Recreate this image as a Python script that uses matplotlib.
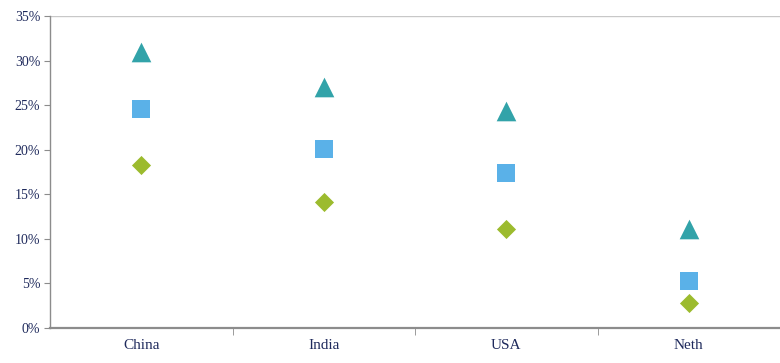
import matplotlib.pyplot as plt
import numpy as np

countries = ['China', 'India', 'USA', 'Neth']
high = [31.0, 27.0, 24.3, 11.1]
mid = [24.6, 20.1, 17.4, 5.3]
low = [18.3, 14.1, 11.1, 2.8]

plt.rcParams['font.family'] = ['Liberation Serif', 'DejaVu Serif']
navy = '#1f2a5c'
spine = '#8c8c8c'

fig = plt.figure(figsize=(7.8, 3.63), dpi=100)
ax = fig.add_axes([50 / 780, 1 - 328 / 363, 730 / 780, 312 / 363])

x = np.arange(len(countries))
ax.scatter(x, high, marker='^', s=200, color='#32a3a9', zorder=3, linewidths=0)
ax.scatter(x, mid, marker='s', s=182, color='#5ab1e8', zorder=3, linewidths=0)
ax.scatter(x, low, marker='D', s=95, color='#9cbb2e', zorder=3, linewidths=0)

ax.set_xlim(-0.5, len(countries) - 0.5)
ax.set_ylim(0, 35)
ax.set_yticks(np.arange(0, 36, 5))
ax.set_yticklabels([f'{v}%' for v in range(0, 36, 5)])
ax.set_xticks(x)
ax.set_xticklabels(countries)
ax.set_xticks(np.arange(0.5, len(countries) - 0.5, 1), minor=True)

ax.tick_params(axis='x', which='major', length=0, pad=8, labelsize=11, labelcolor=navy)
ax.tick_params(axis='x', which='minor', length=5, color=spine, direction='out')
ax.tick_params(axis='y', length=4, color=spine, labelsize=10, labelcolor=navy, pad=3)

ax.grid(False)
ax.axhline(35, color='#c8c8c8', linewidth=1)
for s in ['top', 'right']:
    ax.spines[s].set_visible(False)
for s in ['left', 'bottom']:
    ax.spines[s].set_color(spine)
ax.spines['left'].set_linewidth(1)
ax.spines['bottom'].set_linewidth(1.6)

fig.savefig('out.png', dpi=100)
